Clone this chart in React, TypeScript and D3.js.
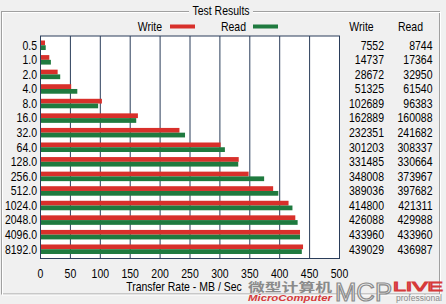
import React from "react";
import * as d3 from "d3";

const categories = ["0.5", "1.0", "2.0", "4.0", "8.0", "16.0", "32.0", "64.0", "128.0", "256.0", "512.0", "1024.0", "2048.0", "4096.0", "8192.0"];
const writeValues = [7552, 14737, 28672, 51325, 102689, 162889, 232351, 301203, 331485, 348008, 389036, 414800, 426088, 433960, 439029];
const readValues = [8744, 17364, 32950, 61540, 96383, 160088, 241682, 308337, 330664, 373967, 397682, 421311, 429988, 433960, 436987];
const xTicks = [0, 50, 100, 150, 200, 250, 300, 350, 400, 450, 500];

const W = 446;
const H = 304;
const FONT = "'Liberation Sans', Arial, sans-serif";
const RED = "#d8302b";
const GREEN = "#1f7a3f";
const GRID = "#2a3d5a";
const BG = "#f0f0f0";
const SX = 0.84;
const FS = 12.5;

type TP = { x: number; y: number; anchor?: "start" | "middle" | "end"; children: React.ReactNode };
function T({ x, y, anchor = "start", children }: TP) {
  return (
    <g transform={`translate(${x},${y}) scale(${SX},1)`}>
      <text x={0} y={0} fontSize={FS} textAnchor={anchor} dominantBaseline="central" fill="#000">{children}</text>
    </g>
  );
}

export default function App() {
  const x = d3.scaleLinear().domain([0, 500]).range([40.5, 339.5]);
  const y = d3.scaleBand<string>().domain(categories).range([36, 258.5]).paddingInner(0.348).paddingOuter(0.31);
  const bw = y.bandwidth();
  const half = bw / 2;

  return (
    <svg width={W} height={H} style={{ position: "absolute", left: 0, top: 0, background: BG }} fontFamily={FONT}>
      <rect x={0} y={0} width={W} height={H} fill={BG} />
      {/* group frame */}
      <rect x={1.5} y={11.5} width={438} height={282.5} fill="none" stroke="#a0a0a0" />
      <rect x={2.5} y={12.5} width={438} height={282.5} fill="none" stroke="#ffffff" />
      <rect x={189} y={4} width={64} height={14} fill={BG} />
      <T x={221} y={11} anchor="middle">Test Results</T>

      {/* legend */}
      <T x={162} y={26.7} anchor="end">Write</T>
      <rect x={170} y={24.5} width={25} height={4} fill={RED} />
      <T x={246} y={26.7} anchor="end">Read</T>
      <rect x={253} y={24.5} width={25} height={4} fill={GREEN} />

      {/* table headers */}
      <T x={361.5} y={26.7} anchor="middle">Write</T>
      <T x={410.5} y={26.7} anchor="middle">Read</T>

      {/* plot area */}
      <rect x={x(0)} y={36} width={x(500) - x(0)} height={222.5} fill="#ffffff" />
      {xTicks.slice(1, -1).map((t) => (
        <line key={t} x1={x(t)} x2={x(t)} y1={36} y2={258.5} stroke={GRID} strokeWidth={1} />
      ))}
      {categories.map((c, i) => {
        const y0 = y(c)!;
        return (
          <g key={c}>
            <rect x={x(0)} y={y0} width={x(writeValues[i] / 1000) - x(0)} height={half} fill={RED} />
            <rect x={x(0)} y={y0 + half} width={x(readValues[i] / 1000) - x(0)} height={half} fill={GREEN} />
            <T x={37} y={y0 + half} anchor="end">{c}</T>
            <T x={384} y={y0 + half} anchor="end">{writeValues[i]}</T>
            <T x={432.5} y={y0 + half} anchor="end">{readValues[i]}</T>
          </g>
        );
      })}
      <rect x={x(0)} y={36} width={x(500) - x(0)} height={222.5} fill="none" stroke={GRID} strokeWidth={1} />

      {/* x axis labels */}
      {xTicks.map((t) => (
        <T key={t} x={x(t)} y={274} anchor="middle">{t}</T>
      ))}
      <T x={184} y={286.5} anchor="middle">Transfer Rate - MB / Sec</T>

      {/* watermark */}
      <text x={248} y={292} fontSize={12} fontWeight="bold" fill="#8a8a8a" textLength={84} lengthAdjust="spacingAndGlyphs" fontFamily="'Noto Sans CJK SC', sans-serif">微型计算机</text>
      <text x={248} y={301} fontSize={9} fontWeight="bold" fontStyle="italic" fill="#d63a3a" textLength={84} lengthAdjust="spacingAndGlyphs" fontFamily="'Liberation Sans', Arial, sans-serif">MicroComputer</text>
      <text x={335} y={301} fontSize={25} fill="#eeeeee" stroke="#8a8a8a" strokeWidth={1.2} textLength={57} lengthAdjust="spacingAndGlyphs" fontFamily="'Liberation Sans', Arial, sans-serif">MCP</text>
      <text x={393} y={291} fontSize={12} fill="#ffffff" stroke="#d63a3a" strokeWidth={1} textLength={50} lengthAdjust="spacingAndGlyphs" fontFamily="'Liberation Sans', Arial, sans-serif">LIVE</text>
      <text x={396} y={300.5} fontSize={8.5} fill="#8a8a8a" textLength={46} lengthAdjust="spacingAndGlyphs" fontFamily="'Liberation Sans', Arial, sans-serif">professional</text>
    </svg>
  );
}
